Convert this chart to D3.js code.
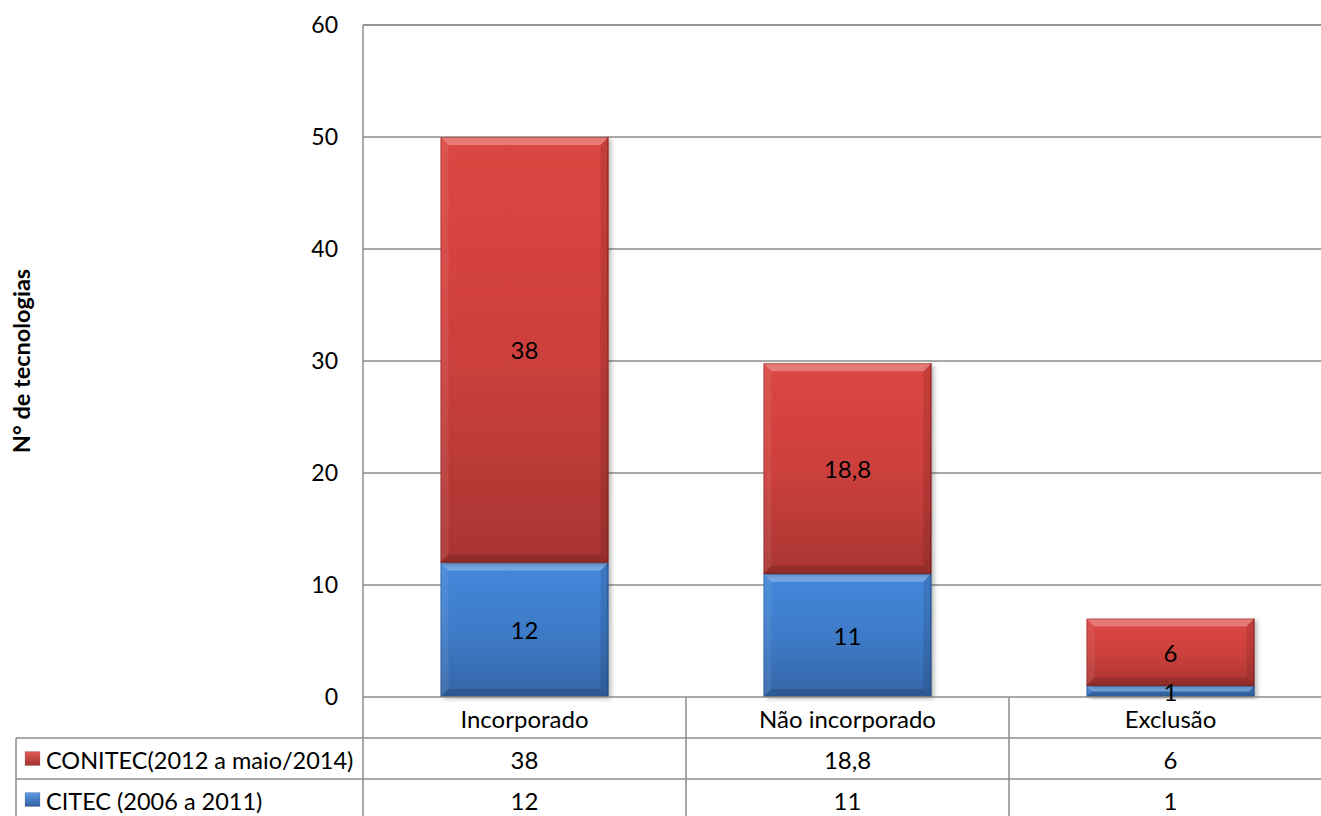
<!DOCTYPE html>
<html>
<head>
<meta charset="utf-8">
<script src="https://cdn.jsdelivr.net/npm/d3@7/dist/d3.min.js"></script>
<style>
  html, body { margin: 0; padding: 0; background: #ffffff; }
  svg { display: block; }
  text { font-family: Lato, "Open Sans", sans-serif; fill: #000; }
</style>
</head>
<body>
<svg id="chart" width="1321" height="816"></svg>
<script>
// Categories and series
const categories = ["Incorporado", "Não incorporado", "Exclusão"];
const citec = [12, 11, 1];          // CITEC (2006 a 2011)
const conitec = [38, 18.8, 6];      // CONITEC(2012 a maio/2014)
const seriesNames = ["CITEC (2006 a 2011)", "CONITEC(2012 a maio/2014)"];
const yTicks = [0, 10, 20, 30, 40, 50, 60];
const yTitle = "N° de tecnologias";

const fmt = v => String(v).replace(".", ",");

const svg = d3.select("#chart");
const W = 1321, H = 816;

const plot = { left: 363, right: 1332, top: 25, bottom: 697 };
const tableLeft = 16;
const rowH = 41;
const fontSize = "24px";

const x = d3.scaleBand()
  .domain(categories)
  .range([plot.left, plot.right])
  .paddingInner(0.48)
  .paddingOuter(0.24);

const y = d3.scaleLinear().domain([0, 60]).range([plot.bottom, plot.top]);

const step = x.step();

// ---------- definitions: gradients and shadow ----------
const defs = svg.append("defs");

function vGrad(id, stops) {
  const g = defs.append("linearGradient").attr("id", id)
    .attr("x1", 0).attr("y1", 0).attr("x2", 0).attr("y2", 1);
  stops.forEach(([o, c]) => g.append("stop").attr("offset", o).attr("stop-color", c));
}
vGrad("redFace", [[0, "#dc4642"], [0.5, "#cd403d"], [1, "#a93532"]]);
vGrad("blueFace", [[0, "#4488db"], [0.5, "#3e7bc8"], [1, "#3466a8"]]);
vGrad("redKey", [[0, "#e05a56"], [1, "#a33330"]]);
vGrad("blueKey", [[0, "#5b9ae6"], [1, "#3262a2"]]);

const sh = defs.append("filter").attr("id", "shadow")
  .attr("x", "-10%").attr("y", "-10%").attr("width", "130%").attr("height", "130%");
sh.append("feDropShadow").attr("dx", 3).attr("dy", 2).attr("stdDeviation", 2)
  .attr("flood-color", "#000").attr("flood-opacity", 0.25);

// ---------- gridlines and axis ----------
const grid = svg.append("g");
grid.selectAll("line.grid")
  .data(yTicks.filter(t => t > 0))
  .join("line")
  .attr("x1", plot.left).attr("x2", W)
  .attr("y1", d => y(d)).attr("y2", d => y(d))
  .attr("stroke", "#8c8c8c").attr("stroke-width", 1.5);

const yAxis = svg.append("g")
  .attr("transform", `translate(${plot.left},0)`)
  .call(d3.axisLeft(y).tickValues(yTicks).tickSize(0).tickPadding(25).tickFormat(d => d));
yAxis.select(".domain").remove();
yAxis.selectAll("text")
  .style("font-family", "Lato, 'Open Sans', sans-serif")
  .style("font-size", "23px").attr("fill", "#000");

// y title
svg.append("text")
  .attr("transform", `translate(21, ${(plot.top + plot.bottom) / 2}) rotate(-90)`)
  .attr("text-anchor", "middle")
  .attr("dominant-baseline", "central")
  .style("font-size", "23.5px").style("font-weight", "bold")
  .text(yTitle);

// ---------- stacked bars ----------
const stackData = categories.map((c, i) => ({ cat: c, citec: citec[i], conitec: conitec[i] }));
const stack = d3.stack().keys(["citec", "conitec"])(stackData);
const faces = { citec: "url(#blueFace)", conitec: "url(#redFace)" };
const dark = { citec: "#1d3a63", conitec: "#5c1a18" };

const barsG = svg.append("g");
stack.forEach(layer => {
  layer.forEach(seg => {
    const cat = seg.data.cat;
    const x0 = x(cat), w = x.bandwidth();
    const yTop = y(seg[1]), yBot = y(seg[0]);
    const h = yBot - yTop;
    const b = Math.min(8, h / 2);
    const g = barsG.append("g");
    g.append("rect")
      .attr("x", x0).attr("y", yTop).attr("width", w).attr("height", h)
      .attr("fill", faces[layer.key]).attr("filter", "url(#shadow)");
    // bevel edges
    const x1 = x0 + w;
    g.append("polygon")
      .attr("points", [[x0, yTop], [x1, yTop], [x1 - b, yTop + b], [x0 + b, yTop + b]].join(" "))
      .attr("fill", "#fff").attr("fill-opacity", 0.28);
    g.append("polygon")
      .attr("points", [[x0, yTop], [x0 + b, yTop + b], [x0 + b, yBot - b], [x0, yBot]].join(" "))
      .attr("fill", "#fff").attr("fill-opacity", 0.07);
    g.append("polygon")
      .attr("points", [[x1, yTop], [x1, yBot], [x1 - b, yBot - b], [x1 - b, yTop + b]].join(" "))
      .attr("fill", "#000").attr("fill-opacity", 0.1);
    g.append("polygon")
      .attr("points", [[x0, yBot], [x0 + b, yBot - b], [x1 - b, yBot - b], [x1, yBot]].join(" "))
      .attr("fill", "#000").attr("fill-opacity", 0.14);
    // thin dark outline on right and bottom
    g.append("path")
      .attr("d", `M${x1 - 0.5},${yTop} V${yBot - 0.5} H${x0}`)
      .attr("fill", "none").attr("stroke", dark[layer.key]).attr("stroke-opacity", 0.7).attr("stroke-width", 1);
    g.append("path")
      .attr("d", `M${x0 + 0.5},${yBot} V${yTop + 0.5} H${x1}`)
      .attr("fill", "none").attr("stroke", dark[layer.key]).attr("stroke-opacity", 0.35).attr("stroke-width", 1);
  });
});

// zero line (drawn over the bars' base)
svg.append("line")
  .attr("x1", plot.left).attr("x2", W)
  .attr("y1", y(0)).attr("y2", y(0))
  .attr("stroke", "#8c8c8c").attr("stroke-width", 1.5);

// data labels, centred in each segment
stack.forEach(layer => {
  layer.forEach(seg => {
    svg.append("text")
      .attr("x", x(seg.data.cat) + x.bandwidth() / 2)
      .attr("y", y((seg[0] + seg[1]) / 2))
      .attr("text-anchor", "middle").attr("dominant-baseline", "central")
      .style("font-size", fontSize)
      .text(fmt(seg.data[layer.key]));
  });
});

// ---------- data table under the plot ----------
const tableG = svg.append("g");
const lineAttrs = sel => sel.attr("stroke", "#8c8c8c").attr("stroke-width", 1.5);
const rowTop1 = plot.bottom + rowH;          // first series row
const rowTop2 = rowTop1 + rowH;              // second series row
const tableBottom = rowTop2 + rowH;

// plot-area left edge / axis line running through the table
tableG.append("line").call(lineAttrs)
  .attr("x1", plot.left).attr("x2", plot.left).attr("y1", plot.top).attr("y2", tableBottom);
tableG.append("line").call(lineAttrs)
  .attr("x1", plot.left).attr("x2", W).attr("y1", plot.top).attr("y2", plot.top);
// category separators
tableG.selectAll("line.sep")
  .data(categories.slice(1))
  .join("line").call(lineAttrs)
  .attr("x1", d => x(d) - (step - x.bandwidth()) / 2)
  .attr("x2", d => x(d) - (step - x.bandwidth()) / 2)
  .attr("y1", plot.bottom).attr("y2", tableBottom);
// row lines
[rowTop1, rowTop2, tableBottom].forEach(yy => {
  tableG.append("line").call(lineAttrs)
    .attr("x1", tableLeft).attr("x2", W).attr("y1", yy).attr("y2", yy);
});
tableG.append("line").call(lineAttrs)
  .attr("x1", tableLeft).attr("x2", tableLeft).attr("y1", rowTop1).attr("y2", tableBottom);

// category labels
tableG.selectAll("text.cat")
  .data(categories)
  .join("text")
  .attr("x", d => x(d) + x.bandwidth() / 2)
  .attr("y", plot.bottom + rowH / 2 + 1)
  .attr("text-anchor", "middle").attr("dominant-baseline", "central")
  .style("font-size", fontSize)
  .text(d => d);

// rows: CONITEC first, then CITEC
const rows = [
  { name: seriesNames[1], values: conitec, key: "url(#redKey)", top: rowTop1 },
  { name: seriesNames[0], values: citec, key: "url(#blueKey)", top: rowTop2 }
];
rows.forEach(r => {
  tableG.append("rect")
    .attr("x", 25).attr("y", r.top + rowH / 2 - 7).attr("width", 15).attr("height", 14)
    .attr("fill", r.key).attr("stroke", "#555").attr("stroke-opacity", 0.4).attr("stroke-width", 0.5);
  tableG.append("text")
    .attr("x", 46).attr("y", r.top + rowH / 2 + 1)
    .attr("dominant-baseline", "central")
    .style("font-size", "23.5px")
    .text(r.name);
  tableG.selectAll(null)
    .data(r.values.map((v, i) => ({ v, c: categories[i] })))
    .join("text")
    .attr("x", d => x(d.c) + x.bandwidth() / 2)
    .attr("y", r.top + rowH / 2 + 1)
    .attr("text-anchor", "middle").attr("dominant-baseline", "central")
    .style("font-size", fontSize)
    .text(d => fmt(d.v));
});
</script>
</body>
</html>
